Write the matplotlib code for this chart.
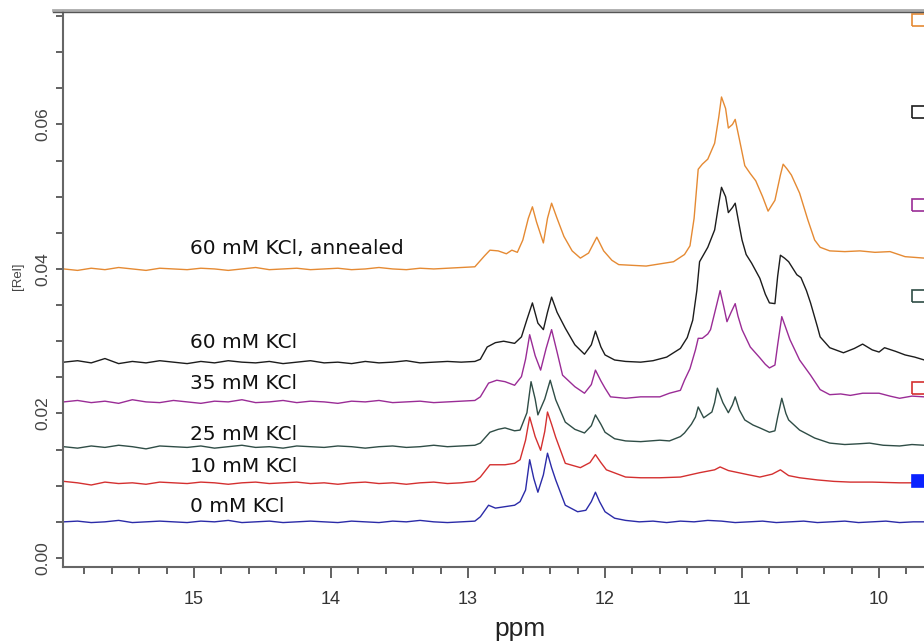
import matplotlib
matplotlib.use('Agg')
import matplotlib.pyplot as plt
from matplotlib.patches import Rectangle
from matplotlib.lines import Line2D
from matplotlib.ticker import MultipleLocator, FixedLocator

plt.rcParams['font.family'] = ['Liberation Sans', 'DejaVu Sans']

# shared left-hand baseline grid (ppm)
base_ppm = [15.95, 15.85, 15.75, 15.65, 15.55, 15.45, 15.35, 15.25, 15.15, 15.05,
            14.95, 14.85, 14.75, 14.65, 14.55, 14.45, 14.35, 14.25, 14.15, 14.05,
            13.95, 13.85, 13.75, 13.65, 13.55, 13.45, 13.35, 13.25, 13.15, 13.05]

# 60 mM KCl, annealed
orange_base = [0.0400, 0.0398, 0.0401, 0.0399, 0.0402, 0.0400, 0.0398, 0.0401, 0.0400, 0.0399,
               0.0401, 0.0400, 0.0398, 0.0400, 0.0402, 0.0399, 0.0400, 0.0401, 0.0399, 0.0400,
               0.0401, 0.0399, 0.0400, 0.0402, 0.0400, 0.0399, 0.0401, 0.0400, 0.0401, 0.0402]
orange = [(12.95, 0.0403), (12.88, 0.0418), (12.84, 0.0426), (12.78, 0.0425), (12.72, 0.0421),
          (12.68, 0.0426), (12.64, 0.0423), (12.60, 0.0440), (12.56, 0.0470), (12.53, 0.0486),
          (12.50, 0.0465), (12.45, 0.0436), (12.42, 0.0470), (12.39, 0.0491), (12.35, 0.0470),
          (12.30, 0.0445), (12.24, 0.0425), (12.18, 0.0415), (12.12, 0.0422), (12.06, 0.0444),
          (12.01, 0.0425), (11.95, 0.0412), (11.90, 0.0406), (11.80, 0.0405), (11.70, 0.0404),
          (11.60, 0.0407), (11.50, 0.0410), (11.42, 0.0420), (11.38, 0.0432), (11.35, 0.0470),
          (11.32, 0.0538), (11.29, 0.0545), (11.25, 0.0552), (11.20, 0.0574), (11.17, 0.0610),
          (11.15, 0.0638), (11.12, 0.0622), (11.10, 0.0595), (11.07, 0.0600), (11.05, 0.0607),
          (11.02, 0.0580), (10.98, 0.0543), (10.94, 0.0532), (10.90, 0.0522), (10.85, 0.0500),
          (10.81, 0.0480), (10.76, 0.0495), (10.72, 0.0530), (10.70, 0.0545), (10.67, 0.0538),
          (10.64, 0.0530), (10.58, 0.0505), (10.52, 0.0468), (10.47, 0.0440), (10.43, 0.0430),
          (10.36, 0.0425), (10.25, 0.0424), (10.14, 0.0425), (10.03, 0.0423), (9.92, 0.0424),
          (9.81, 0.0417), (9.67, 0.0415)]

# 60 mM KCl
black_base = [0.0271, 0.0273, 0.0270, 0.0276, 0.0269, 0.0272, 0.0270, 0.0273, 0.0271, 0.0269,
              0.0272, 0.0270, 0.0273, 0.0271, 0.0270, 0.0272, 0.0269, 0.0271, 0.0273, 0.0270,
              0.0271, 0.0269, 0.0272, 0.0270, 0.0271, 0.0273, 0.0270, 0.0271, 0.0272, 0.0271]
black = [(12.95, 0.0272), (12.91, 0.0275), (12.86, 0.0292), (12.80, 0.0298), (12.74, 0.0300),
         (12.66, 0.0297), (12.61, 0.0306), (12.57, 0.0330), (12.53, 0.0353), (12.49, 0.0325),
         (12.45, 0.0316), (12.42, 0.0340), (12.39, 0.0361), (12.35, 0.0340), (12.29, 0.0318),
         (12.22, 0.0295), (12.15, 0.0282), (12.10, 0.0295), (12.07, 0.0314), (12.03, 0.0292),
         (12.00, 0.0281), (11.93, 0.0274), (11.85, 0.0272), (11.74, 0.0271), (11.65, 0.0273),
         (11.55, 0.0278), (11.45, 0.0290), (11.40, 0.0305), (11.36, 0.0329), (11.33, 0.0370),
         (11.31, 0.0410), (11.28, 0.0420), (11.25, 0.0430), (11.20, 0.0454), (11.17, 0.0490),
         (11.15, 0.0513), (11.12, 0.0500), (11.10, 0.0478), (11.07, 0.0485), (11.05, 0.0491),
         (11.02, 0.0460), (11.00, 0.0440), (10.97, 0.0420), (10.93, 0.0408), (10.87, 0.0387),
         (10.83, 0.0365), (10.80, 0.0353), (10.76, 0.0352), (10.74, 0.0390), (10.72, 0.0419),
         (10.69, 0.0415), (10.66, 0.0410), (10.62, 0.0398), (10.60, 0.0392), (10.57, 0.0388),
         (10.53, 0.0370), (10.50, 0.0353), (10.45, 0.0320), (10.43, 0.0306), (10.36, 0.0291),
         (10.26, 0.0284), (10.18, 0.0290), (10.12, 0.0296), (10.05, 0.0288), (10.00, 0.0285),
         (9.96, 0.0291), (9.88, 0.0286), (9.81, 0.0281), (9.74, 0.0278), (9.67, 0.0274)]

# 35 mM KCl
purple_base = [0.0216, 0.0218, 0.0215, 0.0217, 0.0214, 0.0219, 0.0216, 0.0215, 0.0218, 0.0216,
               0.0214, 0.0217, 0.0216, 0.0219, 0.0215, 0.0216, 0.0218, 0.0215, 0.0217, 0.0216,
               0.0214, 0.0217, 0.0216, 0.0218, 0.0215, 0.0216, 0.0217, 0.0215, 0.0216, 0.0217]
purple = [(12.95, 0.0218), (12.91, 0.0223), (12.85, 0.0242), (12.79, 0.0246), (12.73, 0.0244),
          (12.66, 0.0239), (12.61, 0.0251), (12.58, 0.0275), (12.55, 0.0309), (12.51, 0.0280),
          (12.47, 0.0260), (12.43, 0.0290), (12.39, 0.0316), (12.35, 0.0285), (12.31, 0.0253),
          (12.22, 0.0237), (12.15, 0.0228), (12.10, 0.0240), (12.07, 0.0260), (12.03, 0.0245),
          (12.00, 0.0235), (11.96, 0.0223), (11.85, 0.0221), (11.74, 0.0223), (11.60, 0.0223),
          (11.53, 0.0228), (11.45, 0.0232), (11.42, 0.0246), (11.38, 0.0262), (11.34, 0.0288),
          (11.32, 0.0304), (11.29, 0.0304), (11.25, 0.0310), (11.23, 0.0316), (11.20, 0.0339),
          (11.16, 0.0370), (11.13, 0.0345), (11.11, 0.0327), (11.08, 0.0340), (11.05, 0.0352),
          (11.03, 0.0335), (11.00, 0.0316), (10.94, 0.0292), (10.87, 0.0277), (10.83, 0.0268),
          (10.80, 0.0263), (10.76, 0.0267), (10.74, 0.0295), (10.71, 0.0334), (10.68, 0.0318),
          (10.65, 0.0302), (10.62, 0.0290), (10.58, 0.0274), (10.50, 0.0253), (10.43, 0.0233),
          (10.36, 0.0226), (10.28, 0.0227), (10.21, 0.0225), (10.12, 0.0228), (10.00, 0.0228),
          (9.92, 0.0224), (9.85, 0.0221), (9.76, 0.0224), (9.67, 0.0223)]

# 25 mM KCl
green_base = [0.0154, 0.0152, 0.0155, 0.0153, 0.0156, 0.0154, 0.0151, 0.0155, 0.0154, 0.0153,
              0.0155, 0.0152, 0.0154, 0.0156, 0.0153, 0.0154, 0.0152, 0.0155, 0.0154, 0.0153,
              0.0155, 0.0154, 0.0152, 0.0154, 0.0155, 0.0153, 0.0154, 0.0156, 0.0154, 0.0155]
green = [(12.95, 0.0156), (12.91, 0.0159), (12.84, 0.0174), (12.78, 0.0178), (12.73, 0.0180),
         (12.66, 0.0176), (12.62, 0.0177), (12.57, 0.0201), (12.54, 0.0244), (12.51, 0.0220),
         (12.49, 0.0198), (12.44, 0.0220), (12.40, 0.0246), (12.36, 0.0219), (12.29, 0.0188),
         (12.22, 0.0178), (12.15, 0.0173), (12.10, 0.0183), (12.07, 0.0198), (12.03, 0.0185),
         (12.00, 0.0174), (11.93, 0.0165), (11.85, 0.0162), (11.74, 0.0161), (11.60, 0.0163),
         (11.53, 0.0162), (11.45, 0.0168), (11.42, 0.0173), (11.37, 0.0185), (11.34, 0.0195),
         (11.32, 0.0209), (11.28, 0.0194), (11.22, 0.0202), (11.20, 0.0215), (11.18, 0.0235),
         (11.14, 0.0215), (11.10, 0.0201), (11.07, 0.0212), (11.05, 0.0223), (11.02, 0.0205),
         (10.98, 0.0191), (10.92, 0.0184), (10.87, 0.0180), (10.80, 0.0174), (10.76, 0.0176),
         (10.74, 0.0195), (10.71, 0.0221), (10.68, 0.0200), (10.66, 0.0191), (10.58, 0.0177),
         (10.47, 0.0166), (10.36, 0.0159), (10.25, 0.0157), (10.15, 0.0158), (10.07, 0.0159),
         (9.97, 0.0156), (9.85, 0.0155), (9.76, 0.0157), (9.67, 0.0156)]

# 10 mM KCl
red_base = [0.0106, 0.0104, 0.0101, 0.0105, 0.0103, 0.0104, 0.0102, 0.0105, 0.0104, 0.0103,
            0.0105, 0.0104, 0.0102, 0.0104, 0.0105, 0.0103, 0.0104, 0.0105, 0.0103, 0.0104,
            0.0102, 0.0104, 0.0105, 0.0103, 0.0104, 0.0102, 0.0104, 0.0105, 0.0103, 0.0104]
red = [(12.95, 0.0106), (12.91, 0.0112), (12.84, 0.0129), (12.73, 0.0129), (12.66, 0.0131),
       (12.62, 0.0136), (12.58, 0.0163), (12.55, 0.0195), (12.51, 0.0168), (12.47, 0.0149),
       (12.44, 0.0175), (12.42, 0.0202), (12.39, 0.0185), (12.36, 0.0167), (12.29, 0.0131),
       (12.18, 0.0125), (12.11, 0.0132), (12.07, 0.0143), (12.03, 0.0132), (11.99, 0.0122),
       (11.85, 0.0112), (11.74, 0.0111), (11.60, 0.0111), (11.45, 0.0112), (11.31, 0.0118),
       (11.20, 0.0122), (11.16, 0.0126), (11.10, 0.0121), (11.05, 0.0119), (10.95, 0.0115),
       (10.87, 0.0112), (10.78, 0.0116), (10.72, 0.0122), (10.66, 0.0114), (10.58, 0.0111),
       (10.45, 0.0108), (10.33, 0.0106), (10.21, 0.0105), (10.05, 0.0105), (9.85, 0.0104),
       (9.67, 0.0104)]

# 0 mM KCl
blue_base = [0.0050, 0.0051, 0.0049, 0.0050, 0.0052, 0.0049, 0.0050, 0.0051, 0.0050, 0.0049,
             0.0051, 0.0050, 0.0052, 0.0049, 0.0050, 0.0051, 0.0049, 0.0050, 0.0051, 0.0050,
             0.0049, 0.0051, 0.0050, 0.0049, 0.0051, 0.0050, 0.0052, 0.0050, 0.0049, 0.0050]
blue = [(12.95, 0.0051), (12.91, 0.0057), (12.85, 0.0073), (12.80, 0.0069), (12.73, 0.0071),
        (12.66, 0.0073), (12.62, 0.0078), (12.58, 0.0094), (12.55, 0.0136), (12.52, 0.0110),
        (12.49, 0.0091), (12.45, 0.0115), (12.42, 0.0145), (12.39, 0.0125), (12.36, 0.0108),
        (12.29, 0.0073), (12.20, 0.0064), (12.14, 0.0066), (12.10, 0.0078), (12.07, 0.0091),
        (12.04, 0.0078), (12.00, 0.0064), (11.93, 0.0055), (11.85, 0.0052), (11.75, 0.0050),
        (11.65, 0.0051), (11.55, 0.0049), (11.45, 0.0051), (11.35, 0.0050), (11.25, 0.0052),
        (11.15, 0.0051), (11.05, 0.0049), (10.95, 0.0050), (10.85, 0.0051), (10.75, 0.0049),
        (10.65, 0.0050), (10.55, 0.0051), (10.45, 0.0049), (10.35, 0.0050), (10.25, 0.0051),
        (10.15, 0.0049), (10.05, 0.0050), (9.95, 0.0051), (9.85, 0.0049), (9.75, 0.0050),
        (9.67, 0.0050)]

labels = ['60 mM KCl, annealed', '60 mM KCl', '35 mM KCl', '25 mM KCl', '10 mM KCl', '0 mM KCl']
label_y = [0.0421, 0.0291, 0.0234, 0.0163, 0.0119, 0.0064]

series = [(orange_base, orange, '#e58a33'),
          (black_base, black, '#1c1c1c'),
          (purple_base, purple, '#9a2c96'),
          (green_base, green, '#2f4d46'),
          (red_base, red, '#d43030'),
          (blue_base, blue, '#2b2ba8')]

fig = plt.figure(figsize=(9.24, 6.43), dpi=100)
ax = fig.add_axes([63 / 924, 76 / 643, 861 / 924, 556 / 643])

for base, pts, col in series:
    px, py = zip(*pts)
    ax.plot(base_ppm + list(px), base + list(py), color=col, lw=1.0)

for lab, ly in zip(labels, label_y):
    ax.text(15.03, ly, lab, fontsize=14.5, family='DejaVu Sans', color='#111111',
            va='baseline', ha='left')

ax.set_xlim(15.956, 9.672)
ax.set_ylim(-0.00125, 0.0757)

ax.xaxis.set_major_locator(FixedLocator([15, 14, 13, 12, 11, 10]))
ax.xaxis.set_minor_locator(MultipleLocator(0.2))
ax.yaxis.set_major_locator(FixedLocator([0.0, 0.02, 0.04, 0.06]))
ax.yaxis.set_minor_locator(MultipleLocator(0.005))
ax.set_yticklabels(['0.00', '0.02', '0.04', '0.06'], rotation=90, va='center')

ax.tick_params(axis='x', which='major', length=8, width=1.3, color='#555555',
               labelsize=13, labelcolor='#333333', pad=9)
ax.tick_params(axis='x', which='minor', length=5, width=1.3, color='#555555')
ax.tick_params(axis='y', which='both', length=5, width=1.3, color='#555555',
               labelsize=12.5, labelcolor='#444444', pad=4)

for side in ['right', 'top']:
    ax.spines[side].set_visible(False)
for side in ['left', 'bottom']:
    ax.spines[side].set_color('#666666')
    ax.spines[side].set_linewidth(1.5)

# top border line, running a little past the left spine
fig.add_artist(Line2D([53 / 924, 1.0], [1 - 9.5 / 643, 1 - 9.5 / 643],
                      transform=fig.transFigure, color='#aaaaaa', lw=2.0))
fig.add_artist(Line2D([53 / 924, 1.0], [1 - 11.5 / 643, 1 - 11.5 / 643],
                      transform=fig.transFigure, color='#555555', lw=1.0))

fig.text(520 / 924, 1 - 629 / 643, 'ppm', fontsize=19, color='#222222',
         ha='center', va='center')
fig.text(18 / 924, 1 - 276 / 643, '[Rel]', rotation=90, fontsize=9.5,
         color='#444444', ha='center', va='center')

# series swatches at the right edge (partly cut off)
sw_top = [14, 106, 199, 290, 382, 475]
for (base, pts, col), top in zip(series, sw_top):
    filled = col == '#2b2ba8'
    fig.add_artist(Rectangle((912 / 924, 1 - (top + 12) / 643), 14 / 924, 12 / 643,
                             transform=fig.transFigure, fill=filled,
                             facecolor='#0a22ff' if filled else 'none',
                             edgecolor='#0a22ff' if filled else col, lw=1.2))

fig.savefig('out.png', dpi=100)
